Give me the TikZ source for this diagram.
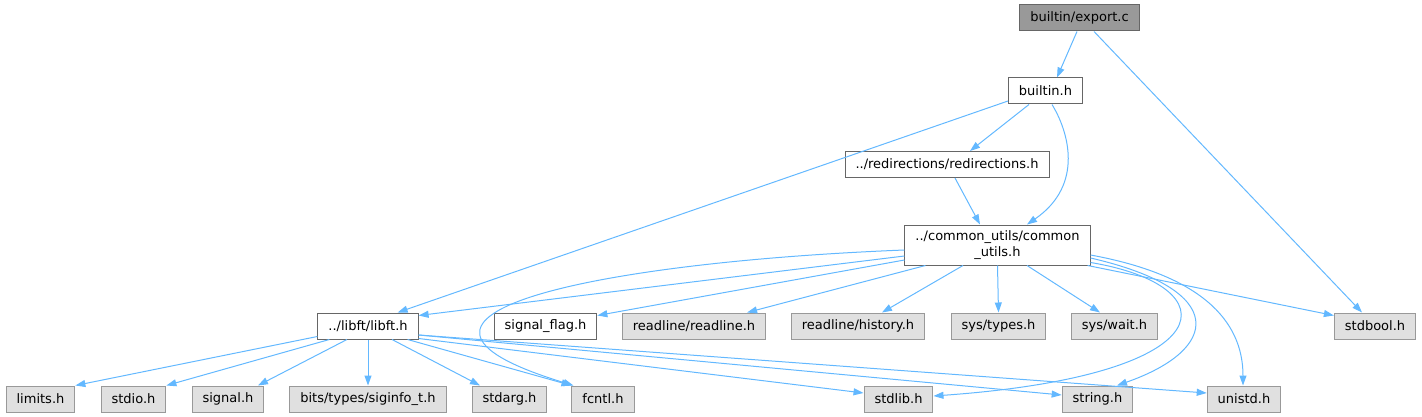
\documentclass[tikz,border=0pt]{standalone}
\usepackage{fontspec}
\setmainfont{DejaVu Sans}
\usetikzlibrary{arrows.meta}
\definecolor{edgeblue}{HTML}{63B8FF}
\definecolor{rootgray}{HTML}{999999}
\definecolor{sysfill}{HTML}{E0E0E0}
\definecolor{sysline}{HTML}{999999}
\definecolor{boxline}{HTML}{666666}

\begin{document}
\begin{tikzpicture}[x=1pt,y=-1pt,
  hfile/.style={draw=boxline, fill=white, line width=1pt, inner xsep=10.5pt, inner ysep=0pt,
    minimum height=26pt, font=\fontsize{13}{15.5}\selectfont},
  rootfile/.style={hfile, fill=rootgray},
  sysfile/.style={hfile, draw=sysline, fill=sysfill},
  dep/.style={draw=edgeblue, line width=1pt, -{Triangle[length=10pt,width=7pt]}}]
\useasboundingbox (0,0) rectangle (1422,417);

% Top of the include chain
\node[rootfile] (export) at (1079.5,18) {builtin/export.c};
\node[hfile] (builtin) at (1045.5,91) {builtin.h};
\node[hfile] (redir) at (947,164.5) {../redirections/redirections.h};
\node[hfile, align=center, minimum height=40pt] (common) at (997.5,245)
  {../common\_utils/common\\\_utils.h};

% Middle row
\node[hfile] (libft) at (368,326) {../libft/libft.h};
\node[hfile] (sigflag) at (545.5,326) {signal\_flag.h};
\foreach \nm/\x/\lbl in {readline/694/{readline/readline.h},history/858/{readline/history.h},
    systypes/998.5/{sys/types.h},syswait/1114.5/{sys/wait.h},stdbool/1375/stdbool.h}
  \node[sysfile] (\nm) at (\x,326) {\lbl};

% Bottom row
\foreach \nm/\x/\lbl in {limits/40.5/limits.h,stdio/133.5/stdio.h,signal/228/signal.h,
    siginfo/368/{bits/types/siginfo\_t.h},stdarg/509.5/stdarg.h,fcntl/603/fcntl.h,
    stdlib/898.5/stdlib.h,string/1097.5/string.h,unistd/1244/unistd.h}
  \node[sysfile] (\nm) at (\x,399) {\lbl};

% export.c
\draw[dep] ([xshift=-2.5pt]export.south) -- ([xshift=11.5pt]builtin.north);
\draw[dep] ([xshift=14.5pt]export.south) -- ([xshift=-13pt]stdbool.north);

% builtin.h
\draw[dep] ([yshift=-10pt]builtin.west) -- ([xshift=-21pt]libft.north east);
\draw[dep] ([xshift=-16.5pt]builtin.south) -- ([xshift=23pt]redir.north);
\draw[dep] ([xshift=6.5pt]builtin.south) .. controls +(16,26) and +(58,-40) .. ([xshift=29.5pt]common.north);

% redirections.h
\draw[dep] ([xshift=8pt]redir.south) -- ([xshift=-17.5pt]common.north);

% common_utils.h
\draw[dep] ([yshift=-11pt]common.west) -- ([yshift=-3pt]libft.north east);
\draw[dep] ([yshift=-15pt]common.west) -- ([yshift=-3pt]sigflag.north east);
\draw[dep] ([xshift=21pt]common.south west) -- ([xshift=-19pt]readline.north east);
\draw[dep] ([xshift=-34.5pt]common.south) -- ([xshift=24pt]history.north);
\draw[dep] (common.south) -- (systypes.north);
\draw[dep] ([xshift=29.5pt]common.south) -- ([xshift=-14.5pt]syswait.north);
\draw[dep] ([xshift=-3pt]common.south east) -- ([yshift=-3pt]stdbool.north west);
\draw[dep] ([yshift=-5pt]common.west) .. controls +(-304,12) and +(-234,-71) .. ([xshift=2pt]fcntl.north west);
\draw[dep] ([yshift=3pt]common.south east) .. controls +(139,23) and +(296,-21) .. ([yshift=3pt]stdlib.east);
\draw[dep] ([yshift=-13pt]common.east) .. controls +(139,32) and +(103,-36) .. ([xshift=19.5pt]string.north);
\draw[dep] ([yshift=-10pt]common.east) .. controls +(109,20) and +(0,-66) .. ([xshift=-1pt]unistd.north);

% libft.h
\draw[dep] ([yshift=3pt]libft.south west) -- (limits.north east);
\draw[dep] ([xshift=12pt]libft.south west) -- (stdio.north east);
\draw[dep] ([xshift=-21pt]libft.south) -- ([xshift=30pt]signal.north);
\draw[dep] (libft.south) -- (siginfo.north);
\draw[dep] ([xshift=24pt]libft.south) -- ([xshift=-29.5pt]stdarg.north);
\draw[dep] ([xshift=-11pt]libft.south east) -- (fcntl.north west);
\draw[dep] ([yshift=1pt]libft.south east) -- ([yshift=6pt]stdlib.west);
\draw[dep] ([yshift=-9pt]libft.east) -- ([yshift=4pt]string.west);
\draw[dep] ([yshift=-9pt]libft.east) -- ([yshift=6pt]unistd.west);
\end{tikzpicture}
\end{document}
